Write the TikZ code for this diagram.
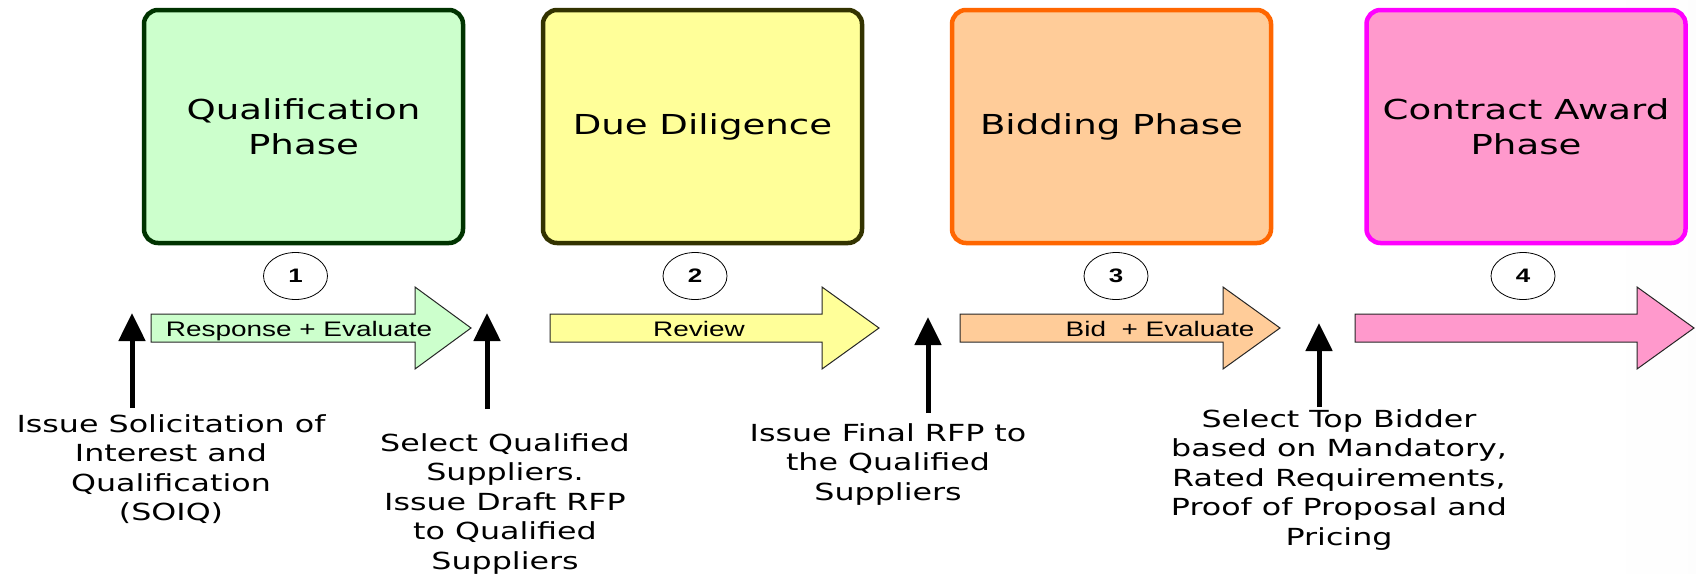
\documentclass[tikz,border=0pt]{standalone}
\usepackage{fontspec}
\usetikzlibrary{shapes.geometric, arrows.meta}
\newfontfamily\handfont{DejaVu Sans}[FakeStretch=1.35]
\newfontfamily\arialfont{Liberation Sans}[FakeStretch=1.33]
\definecolor{qualfill}{HTML}{CCFFCC}
\definecolor{qualline}{HTML}{003300}
\definecolor{duefill}{HTML}{FFFF99}
\definecolor{dueline}{HTML}{333300}
\definecolor{bidfill}{HTML}{FFCC99}
\definecolor{bidline}{HTML}{FF6600}
\definecolor{awardfill}{HTML}{FF99CC}
\definecolor{awardline}{HTML}{FF00FF}
\pgfdeclarehorizontalshading{slidebg}{100bp}{color(0bp)=(black!8); color(13bp)=(white); color(72bp)=(white); color(100bp)=(black!6)}
\tikzstyle{phase} = [rectangle, rounded corners=14pt, minimum width=319pt, minimum height=233pt, line width=4.5pt, align=center, font=\handfont\fontsize{27.5}{35}\selectfont]
\tikzstyle{number} = [ellipse, draw, line width=0.8pt, fill=white, minimum width=64pt, minimum height=47pt, inner sep=0pt, font=\arialfont\bfseries\fontsize{19.5}{22}\selectfont]
\tikzstyle{flow} = [draw=black!85, line width=1pt]
\tikzstyle{flowlabel} = [anchor=base, inner sep=0pt, font=\arialfont\fontsize{21}{25}\selectfont]
\tikzstyle{note} = [anchor=north, inner sep=0pt, align=center, font=\handfont\fontsize{23.5}{29.5}\selectfont]
\tikzstyle{arrow} = [line width=5pt, -{Triangle[width=26pt,length=28pt]}]

\begin{document}
\begin{tikzpicture}[x=1pt, y=-1pt]
            \shade [shading=slidebg] (0,0) rectangle (1696,573);
            \useasboundingbox (0,0) rectangle (1696,573);

            % the four phases
            \node [phase, draw=qualline, fill=qualfill] at (303.5,126.5) (qual) {Qualification\\Phase};
            \node [phase, draw=dueline, fill=duefill] at (702.5,126.5) (due) {Due Diligence};
            \node [phase, draw=bidline, fill=bidfill] at (1111.5,126.5) (bid) {Bidding Phase};
            \node [phase, draw=awardline, fill=awardfill] at (1526,126.5) (award) {Contract Award\\Phase};

            \node [number] at (295.5,276) (n1) {1};
            \node [number] at (695,276) (n2) {2};
            \node [number] at (1116,276) (n3) {3};
            \node [number] at (1523,276) (n4) {4};

            % block arrows along the time line
            \draw [flow, fill=qualfill] (151,314) -- (415,314) -- (415,287) -- (471,328) -- (415,369) -- (415,342) -- (151,342) -- cycle;
            \draw [flow, fill=duefill] (550,314) -- (822,314) -- (822,287) -- (879,328) -- (822,369) -- (822,342) -- (550,342) -- cycle;
            \draw [flow, fill=bidfill] (960,314) -- (1223,314) -- (1223,287) -- (1280,328) -- (1223,369) -- (1223,342) -- (960,342) -- cycle;
            \draw [flow, fill=awardfill] (1355,314) -- (1637,314) -- (1637,287) -- (1694,328) -- (1637,369) -- (1637,342) -- (1355,342) -- cycle;
            \node [flowlabel] at (299,336) (respond) {Response + Evaluate};
            \node [flowlabel] at (699,336) (review) {Review};
            \node [flowlabel] at (1160,336) (evaluate) {Bid~ + Evaluate};

            % milestones
            \node [note] at (171,414) (soiq) {Issue Solicitation of\\Interest and\\Qualification\\(SOIQ)};
            \node [note] at (505,433) (draft) {Select Qualified\\Suppliers.\\Issue Draft RFP\\to Qualified\\Suppliers};
            \node [note] at (888,423) (final) {Issue Final RFP to\\the Qualified\\Suppliers};
            \node [note] at (1339,409) (top) {Select Top Bidder\\based on Mandatory,\\Rated Requirements,\\Proof of Proposal and\\Pricing};

            \coordinate (soiq foot) at (132,408);
            \coordinate (soiq tip) at (132,313);
            \coordinate (draft foot) at (487,409);
            \coordinate (draft tip) at (487,313);
            \coordinate (final foot) at (928,413);
            \coordinate (final tip) at (928,317);
            \coordinate (top foot) at (1319,407);
            \coordinate (top tip) at (1319,323);
            \draw [arrow] (soiq foot) -- (soiq tip);
            \draw [arrow] (draft foot) -- (draft tip);
            \draw [arrow] (final foot) -- (final tip);
            \draw [arrow] (top foot) -- (top tip);
            \end{tikzpicture}
\end{document}
